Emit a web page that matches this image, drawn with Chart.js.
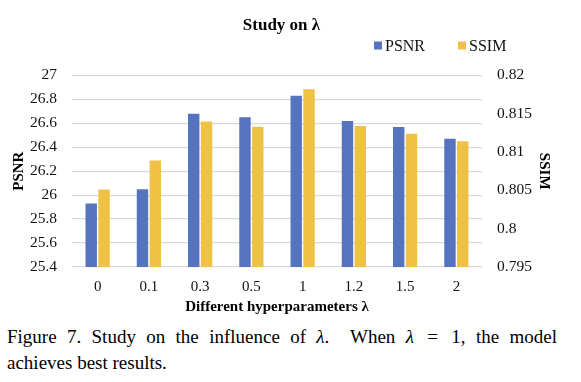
<!DOCTYPE html>
<html>
<head>
<meta charset="utf-8">
<script src="https://cdn.jsdelivr.net/npm/chart.js@4/dist/chart.umd.min.js"></script>
<style>
  html, body { margin: 0; padding: 0; background: #fff; }
  #wrap { position: relative; width: 581px; height: 320px; }
  .cap {
    font-family: "Liberation Serif", "Times New Roman", serif;
    font-size: 19px; color: #000; line-height: 26px;
    width: 550px; margin-left: 7px; white-space: nowrap;
  }
  #cap1 { margin-top: 4px; text-align: justify; text-align-last: justify; }
  #cap2 { text-align: left; }
  .cap i { font-style: italic; }
  .cap .eq { margin: 0 3px; }
</style>
</head>
<body>
<div id="wrap"><canvas id="c" width="581" height="320"></canvas></div>
<div class="cap" id="cap1">Figure 7. Study on the influence of <i>λ</i>.&nbsp; When <i>λ</i> <span class="eq">=</span> 1, the model</div>
<div class="cap" id="cap2">achieves best results.</div>
<script>
const categories = ["0", "0.1", "0.3", "0.5", "1", "1.2", "1.5", "2"];
const psnr = [25.93, 26.05, 26.68, 26.65, 26.83, 26.62, 26.57, 26.47];
const ssim = [0.8051, 0.8089, 0.8140, 0.8133, 0.8182, 0.8134, 0.8124, 0.8114];
const psnrTicks = [25.4, 25.6, 25.8, 26, 26.2, 26.4, 26.6, 26.8, 27];
const ssimTicks = [0.795, 0.8, 0.805, 0.81, 0.815, 0.82];

const serif = '"Liberation Serif", "Times New Roman", serif';
const BLUE = '#5673BF';
const YELLOW = '#EFC244';

const legendPlugin = {
  id: 'customLegend',
  afterDraw(chart) {
    const ctx = chart.ctx;
    ctx.save();
    ctx.font = '16px ' + serif;
    ctx.textBaseline = 'middle';
    const y = 45.5;
    const xs = [374, 458];
    chart.data.datasets.forEach((ds, i) => {
      const x = xs[i];
      ctx.fillStyle = ds.backgroundColor;
      ctx.fillRect(x, y - 4, 8, 8);
      ctx.fillStyle = '#111';
      ctx.fillText(ds.label, x + 11, y + 1);
    });
    ctx.restore();
  }
};

new Chart(document.getElementById('c'), {
  type: 'bar',
  data: {
    labels: categories,
    datasets: [
      { label: 'PSNR', data: psnr, backgroundColor: BLUE, yAxisID: 'y',
        categoryPercentage: 0.5, barPercentage: 0.89 },
      { label: 'SSIM', data: ssim, backgroundColor: YELLOW, yAxisID: 'y1',
        categoryPercentage: 0.5, barPercentage: 0.89 }
    ]
  },
  options: {
    responsive: false,
    animation: false,
    layout: { padding: { left: 10, right: 28, bottom: 4, top: 0 } },
    plugins: {
      legend: { display: false },
      tooltip: { enabled: false },
      title: {
        display: true, text: 'Study on λ', color: '#000',
        font: { family: serif, size: 17, weight: 'bold' },
        padding: { top: 15, bottom: 40 }
      }
    },
    scales: {
      x: {
        grid: { display: false },
        border: { display: false },
        afterFit(axis) { axis.height = 49; },
        ticks: { color: '#111', font: { family: serif, size: 15 }, padding: 3 },
        title: { display: true, text: 'Different hyperparameters λ', color: '#000',
          font: { family: serif, size: 15, weight: 'bold' }, padding: { top: 3, bottom: 0 } }
      },
      y: {
        position: 'left', min: 25.4, max: 27,
        afterBuildTicks(axis) { axis.ticks = psnrTicks.map(v => ({ value: v })); },
        afterFit(axis) { axis.width = 62; },
        grid: { color: '#D9D9D9', lineWidth: 1.2, drawTicks: false },
        border: { display: false },
        ticks: { color: '#111', font: { family: serif, size: 15.5 }, padding: 15,
          callback: v => String(Math.round(v * 10) / 10) },
        title: { display: true, text: 'PSNR', color: '#000',
          font: { family: serif, size: 15, weight: 'bold' }, padding: { top: 0, bottom: 0 } }
      },
      y1: {
        position: 'right', min: 0.795, max: 0.82,
        afterBuildTicks(axis) { axis.ticks = ssimTicks.map(v => ({ value: v })); },
        afterFit(axis) { axis.width = 71; },
        grid: { display: false, drawTicks: false },
        border: { display: false },
        ticks: { color: '#111', font: { family: serif, size: 15.5 }, padding: 15,
          callback: v => String(Math.round(v * 1000) / 1000) },
        title: { display: true, text: 'SSIM', color: '#000',
          font: { family: serif, size: 15, weight: 'bold' }, padding: { top: 0, bottom: 0 } }
      }
    }
  },
  plugins: [legendPlugin]
});
</script>
</body>
</html>
